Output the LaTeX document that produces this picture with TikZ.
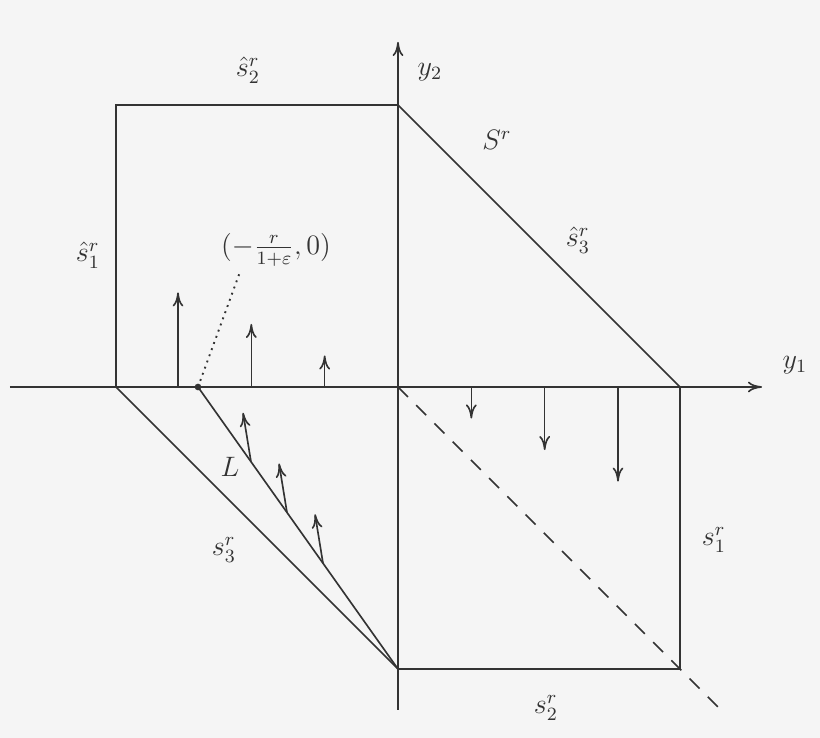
\documentclass[tikz,border=0pt]{standalone}
\usetikzlibrary{calc,arrows.meta}
\definecolor{bg}{HTML}{F5F5F5}
\definecolor{ink}{HTML}{333333}
\begin{document}
\begin{tikzpicture}[line width=0.7pt,draw=ink,text=ink,>={To[length=6pt,width=4.6pt]},font=\large]
    \tikzstyle{force}=[->,shorten >=0pt]
    \tikzstyle{lbl}=[inner sep=1pt]

    \fill[bg] (-5.97,-5.265) rectangle (6.33,5.805);
    \useasboundingbox (-5.97,-5.265) rectangle (6.33,5.805);

    % corners of the set
    \coordinate (O) at (0,0);
    \coordinate (A1) at (-4.23,0);
    \coordinate (A2) at (-4.23,4.23);
    \coordinate (A3) at (0,4.23);
    \coordinate (A4) at (4.23,0);
    \coordinate (A5) at (4.23,-4.23);
    \coordinate (A6) at (0,-4.23);
    \coordinate (P) at (-3,0);

    % axes
    \draw[->] (-5.82,0) -- (5.46,0) node (y1) at (5.955,0.33) {$y_1$};
    \draw[->] (0,-4.845) -- (0,5.175) node (y2) at (0.48,4.725) {$y_2$};

    \draw (A1) -- (A2) -- (A3) -- (A4) -- (A5) -- (A6) -- cycle;
    \draw (P) -- (A6);
    \draw[dashed,dash pattern=on 6pt off 5pt] (O) -- (4.86,-4.86);

    \fill[ink] (P) circle (0.05);
    \node[lbl] (Pl) at (-1.83,2.055) {$(-\frac{r}{1+\varepsilon},0)$};
    \draw[dotted,line width=0.8pt] (P) -- (-2.37,1.725);

    % arrows on the axis
    \foreach \x in {1.1,2.2,3.3}
    {
    \draw[force] (-\x,0) -- ++(0,0.43*\x);
    \draw[force] (\x,0) -- ++(0,-0.43*\x);
    }

    % arrows on L
    \foreach \t in {0.265,0.445,0.625}
    \draw[force] ($(P)!\t!(A6)$) -- ++(-0.12,0.735);

    \node[lbl] (hs2) at (-2.25,4.755) {$\hat{s}_2^r$};
    \node[lbl] (Sr) at (1.485,3.705) {$S^r$};
    \node[lbl] (hs3) at (2.7,2.205) {$\hat{s}_3^r$};
    \node[lbl] (hs1) at (-4.65,1.98) {$\hat{s}_1^r$};
    \node[lbl] (L) at (-2.52,-1.2) {$L$};
    \node[lbl] (s3) at (-2.61,-2.445) {$s_3^r$};
    \node[lbl] (s1) at (4.74,-2.295) {$s_1^r$};
    \node[lbl] (s2) at (2.22,-4.815) {$s_2^r$};
\end{tikzpicture}
\end{document}
